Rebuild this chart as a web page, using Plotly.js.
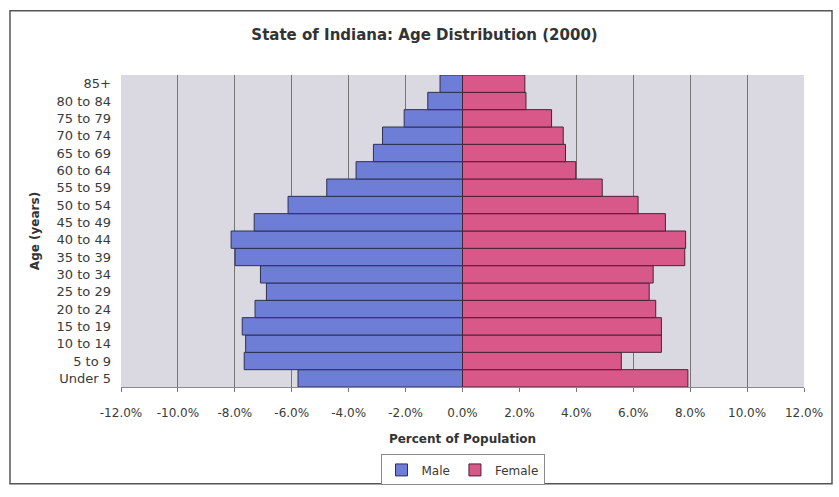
<!DOCTYPE html>
<html>
<head>
<meta charset="utf-8">
<script src="https://cdn.plot.ly/plotly-3.0.1.min.js"></script>
<style>
  html, body { margin: 0; padding: 0; background: #ffffff; }
  #chart { width: 839px; height: 497px; }
</style>
</head>
<body>
<div id="chart"></div>
<script>
// Age groups, bottom to top
const ageGroups = ["Under 5", "5 to 9", "10 to 14", "15 to 19", "20 to 24", "25 to 29",
  "30 to 34", "35 to 39", "40 to 44", "45 to 49", "50 to 54", "55 to 59",
  "60 to 64", "65 to 69", "70 to 74", "75 to 79", "80 to 84", "85+"];

// Percent of population (male shown to the left of zero)
const malePct = [5.78, 7.67, 7.62, 7.74, 7.29, 6.89, 7.10, 7.99, 8.13, 7.32,
  6.13, 4.77, 3.74, 3.13, 2.81, 2.05, 1.22, 0.79];
const femalePct = [7.92, 5.58, 6.99, 6.99, 6.79, 6.56, 6.70, 7.81, 7.84, 7.13,
  6.17, 4.91, 3.98, 3.62, 3.54, 3.13, 2.23, 2.19];

const tickVals = [-12, -10, -8, -6, -4, -2, 0, 2, 4, 6, 8, 10, 12];
const tickText = ["-12.0%", "-10.0%", "-8.0%", "-6.0%", "-4.0%", "-2.0%", "0.0%",
  "2.0%", "4.0%", "6.0%", "8.0%", "10.0%", "12.0%"];

const FONT = "DejaVu Sans, Verdana, sans-serif";
const TXT = "#3a3a3a";

const traces = [
  {
    type: "bar", orientation: "h", name: "Male",
    y: ageGroups, x: malePct.map(v => -v),
    marker: { color: "#6e7dd6", line: { color: "#2f2f55", width: 1 } },
    hoverinfo: "skip"
  },
  {
    type: "bar", orientation: "h", name: "Female",
    y: ageGroups, x: femalePct,
    marker: { color: "#d8588a", line: { color: "#4a2236", width: 1 } },
    hoverinfo: "skip"
  }
];

const layout = {
  width: 839, height: 497,
  margin: { l: 121, r: 35, t: 75, b: 106 },
  paper_bgcolor: "#ffffff",
  plot_bgcolor: "#dad9e1",
  barmode: "relative",
  bargap: 0,
  font: { family: FONT, color: TXT, size: 12 },
  title: {
    text: "State of Indiana: Age Distribution (2000)",
    font: { family: FONT, size: 15, color: "#333333", weight: "bold" },
    x: 0.506, xref: "container", xanchor: "center",
    y: 1 - 35 / 497, yref: "container", yanchor: "middle"
  },
  xaxis: {
    range: [-12, 12],
    tickvals: tickVals, ticktext: tickText,
    tickfont: { family: FONT, size: 12, color: TXT },
    ticks: "outside", ticklen: 4, tickcolor: "#777777",
    ticklabelstandoff: 11,
    showgrid: true, gridcolor: "#767676", gridwidth: 1,
    zeroline: true, zerolinecolor: "#555555", zerolinewidth: 1,
    showline: true, linecolor: "#8a8a8a", linewidth: 1,
    fixedrange: true,
    title: {
      text: "Percent of Population",
      font: { family: FONT, size: 12, color: "#333333", weight: "bold" },
      standoff: 15
    }
  },
  yaxis: {
    type: "category",
    tickfont: { family: FONT, size: 13, color: TXT },
    ticks: "", ticklabelstandoff: 9,
    showgrid: false, zeroline: false, showline: false,
    fixedrange: true,
    title: {
      text: "Age (years)",
      font: { family: FONT, size: 12, color: "#333333", weight: "bold" },
      standoff: 14
    }
  },
  showlegend: true,
  legend: {
    orientation: "h",
    x: 0.5, xanchor: "center", xref: "paper",
    y: (391 - 475) / 316, yanchor: "middle",
    bgcolor: "#ffffff",
    bordercolor: "#8a8a8a", borderwidth: 1,
    font: { family: FONT, size: 12, color: TXT },
    itemwidth: 30,
    tracegroupgap: 0,
    traceorder: "normal"
  },
  shapes: [
    {
      type: "rect", xref: "paper", yref: "paper",
      x0: (10 - 121) / 683, x1: (832 - 121) / 683,
      y0: (391 - 489) / 316, y1: (391 - 10) / 316,
      line: { color: "#555555", width: 1.5 },
      fillcolor: "rgba(0,0,0,0)", layer: "below"
    }
  ]
};

Plotly.newPlot("chart", traces, layout, { displayModeBar: false, staticPlot: true });
</script>
</body>
</html>
